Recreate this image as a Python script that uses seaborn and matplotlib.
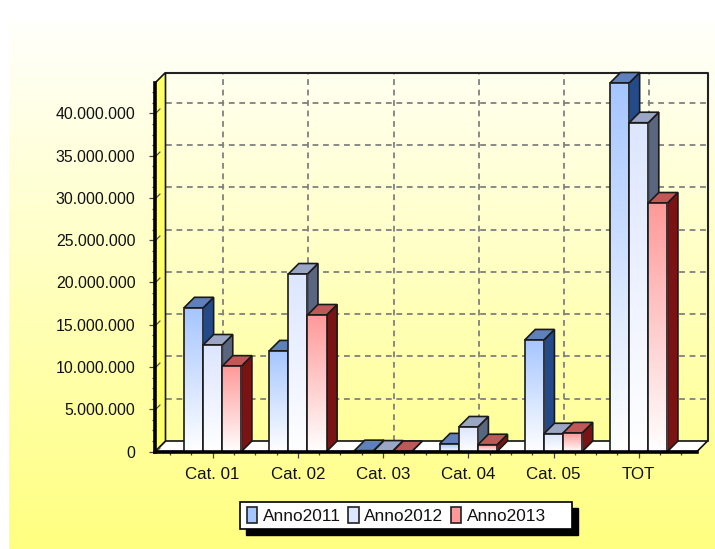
import numpy as np
import pandas as pd
import matplotlib
matplotlib.use("Agg")
import matplotlib.pyplot as plt
from matplotlib.colors import LinearSegmentedColormap
from matplotlib.patches import Polygon, Rectangle, Patch
from matplotlib.path import Path
from matplotlib.ticker import FuncFormatter, MultipleLocator
import seaborn as sns

categories = ["Cat. 01", "Cat. 02", "Cat. 03", "Cat. 04", "Cat. 05", "TOT"]
anno2011 = [17.0e6, 11.9e6, 0.1e6, 0.9e6, 13.2e6, 43.6e6]
anno2012 = [12.6e6, 21.0e6, 0.05e6, 2.9e6, 2.1e6, 38.9e6]
anno2013 = [10.1e6, 16.15e6, 0.0, 0.8e6, 2.2e6, 29.4e6]
series_names = ["Anno2011", "Anno2012", "Anno2013"]
front_colors = ["#A6C6FF", "#DDE6FF", "#FF9999"]
top_colors = ["#5F80BB", "#9AA6C4", "#C05858"]
side_colors = ["#254A8A", "#5A6580", "#7A1414"]

W, H = 715, 549
sns.set_theme(style="white")
plt.rcParams["font.family"] = ["Liberation Sans", "DejaVu Sans"]

fig = plt.figure(figsize=(W / 100, H / 100), dpi=100, facecolor="white")

def px_rect(l, t, r, b):
    return [l / W, 1 - b / H, (r - l) / W, (b - t) / H]

# page gradient
bg = fig.add_axes(px_rect(9, 20, 715, 549), zorder=0)
bg.axis("off")
bg_cmap = LinearSegmentedColormap.from_list("bg", ["#FFFFFC", "#FFFF80"])
bg.imshow(np.linspace(0, 1, 256).reshape(-1, 1), cmap=bg_cmap, aspect="auto",
          extent=(0, 1, 0, 1), origin="upper")

# plot
L, R, T, B = 155, 697, 83, 451.5
ax = fig.add_axes(px_rect(L, T, R, B), zorder=1)
ax.patch.set_visible(False)

df = pd.DataFrame({
    "cat": categories * 3,
    "serie": np.repeat(series_names, len(categories)),
    "val": anno2011 + anno2012 + anno2013,
})
sns.barplot(data=df, x="cat", y="val", hue="serie", palette=front_colors,
            hue_order=series_names, width=0.674, gap=0, legend=False, ax=ax,
            edgecolor="#1A1A1A", linewidth=1.2, saturation=1, errorbar=None)

xmin, xmax = -0.677, 5.684
ymin, ymax = 0, 43.6e6
ax.set_xlim(xmin, xmax)
ax.set_ylim(ymin, ymax)
dx = 10.5 * (xmax - xmin) / (R - L)
dy = 10.5 * (ymax - ymin) / (B - T)

GRID = dict(color="#808080", lw=1.3, linestyles=(0, (3.2, 2.6)), zorder=1, clip_on=False)
ax.hlines(np.arange(5e6, 41e6, 5e6) + dy, xmin + dx, xmax + dx, **GRID)
ax.vlines(np.arange(len(categories)) + dx, dy, ymax + dy, **GRID)

# walls
ax.add_patch(Polygon([(xmin, 0), (xmax, 0), (xmax + dx, dy), (xmin + dx, dy)],
                     closed=True, fc="white", ec="#111111", lw=1.2, zorder=2, clip_on=False))
ax.add_patch(Polygon([(xmin, 0), (xmin + dx, dy), (xmin + dx, ymax + dy), (xmin, ymax)],
                     closed=True, fc="#FFFF66", ec="#111111", lw=1.2, zorder=2, clip_on=False))
ax.plot([xmin + dx, xmax + dx, xmax + dx], [ymax + dy, ymax + dy, dy], color="#222222",
        lw=1.5, zorder=1.5, clip_on=False)

# 3D bars built from the seaborn patches
for si, container in enumerate(ax.containers):
    cmap = LinearSegmentedColormap.from_list("b", [front_colors[si], "#FFFFFF"])
    for p in container.patches:
        x0, w, h = p.get_x(), p.get_width(), p.get_height()
        x1 = x0 + w
        # keep depth drawn from left to right
        order = 10 + x0 * 5
        edge = dict(ec="#1A1A1A", lw=1.2, clip_on=False, zorder=order)
        ax.add_patch(Polygon([(x1, 0), (x1 + dx, dy), (x1 + dx, h + dy), (x1, h)],
                             closed=True, fc=side_colors[si], **edge))
        ax.add_patch(Polygon([(x0, h), (x1, h), (x1 + dx, h + dy), (x0 + dx, h + dy)],
                             closed=True, fc=top_colors[si], **edge))
        if h > 0:
            ax.imshow(np.linspace(0, 1, 128).reshape(-1, 1), cmap=cmap, aspect="auto",
                      extent=(x0, x1, 0, h), origin="upper", zorder=order + 0.01)
        p.set_facecolor("none")
        p.set_zorder(order + 0.02)
        p.set_clip_on(False)
ax.set_xlim(xmin, xmax)
ax.set_ylim(ymin, ymax)
ax.set_aspect("auto")

# axes styling
for s in ("top", "right"):
    ax.spines[s].set_visible(False)
for s in ("left", "bottom"):
    ax.spines[s].set_linewidth(2.6)
    ax.spines[s].set_color("black")
    ax.spines[s].set_zorder(60)
ax.set_xlabel("")
ax.set_ylabel("")
ax.yaxis.set_major_locator(MultipleLocator(5e6))
ax.yaxis.set_minor_locator(MultipleLocator(1.25e6))
ax.yaxis.set_major_formatter(FuncFormatter(lambda v, _: f"{int(v):,}".replace(",", ".")))
ax.xaxis.set_minor_locator(MultipleLocator(0.25))
ax.tick_params(axis="both", which="major", length=4.5, width=0.9, color="#444444",
               left=True, bottom=True)
ax.tick_params(axis="both", which="minor", length=2.5, width=0.9, color="#444444",
               left=True, bottom=True)
ax.tick_params(axis="x", which="major", pad=6.5, labelsize=12.2, labelcolor="#111111")
ax.tick_params(axis="y", which="major", pad=9.5, labelsize=11.4, labelcolor="#111111")

# short slanted part of the value ticks, running into the side wall
slant = Path([(0, 0), (1, 1)])
ax.plot([xmin] * 9, np.arange(0, 41e6, 5e6), ls="none", marker=slant, ms=7, mec="#555555",
        mew=0.9, zorder=50, clip_on=False)
ax.set_xlim(xmin, xmax)
ax.set_ylim(ymin, ymax)

# legend box with hard shadow
fig.add_artist(Rectangle((246 / W, 1 - 535 / H), 332 / W, 27 / H, transform=fig.transFigure,
                         fc="black", ec="black", zorder=2))
fig.add_artist(Rectangle((240 / W, 1 - 529 / H), 332 / W, 27 / H, transform=fig.transFigure,
                         fc="white", ec="black", lw=1.2, zorder=2.5))
handles = [Patch(fc=c, ec="#222222", lw=1.2, label=n) for c, n in zip(front_colors, series_names)]
lax = fig.add_axes(px_rect(240, 502, 572, 529), zorder=3)
lax.set_axis_off()
leg = lax.legend(handles=handles, loc="center left", ncol=3, frameon=False,
                 bbox_to_anchor=(7 / 332, 0.5), borderaxespad=0, borderpad=0,
                 handlelength=0.6, handleheight=1.0, handletextpad=0.33, columnspacing=0.42,
                 fontsize=12.4)
for t in leg.get_texts():
    t.set_color("#111111")

fig.savefig("out.png", dpi=100, facecolor="white")
